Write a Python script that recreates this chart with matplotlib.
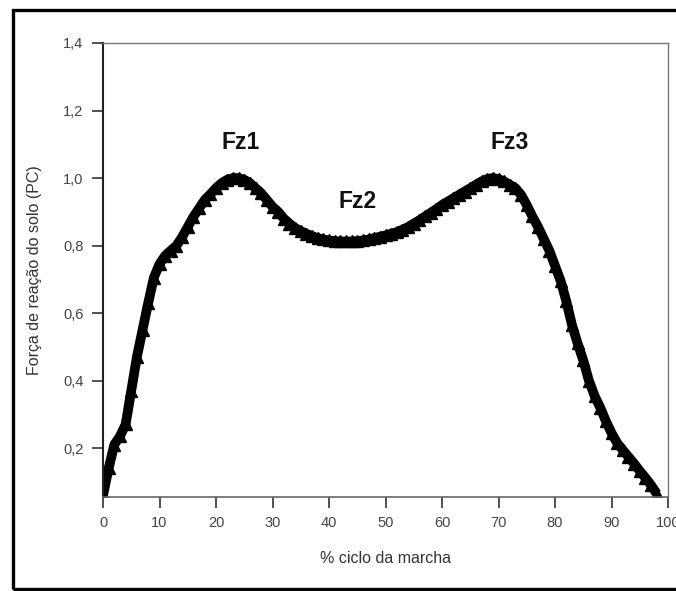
import numpy as np
import matplotlib
matplotlib.use("Agg")
import matplotlib.pyplot as plt
from matplotlib.patches import Rectangle
from matplotlib.ticker import FuncFormatter

# % of gait cycle and normalised vertical ground reaction force
ciclo = list(range(0, 99))
forca = [0.06, 0.14, 0.21, 0.235, 0.27, 0.37, 0.47, 0.55, 0.63, 0.705,
         0.745, 0.77, 0.785, 0.80, 0.825, 0.855, 0.885, 0.91, 0.935, 0.952,
         0.97, 0.985, 0.995, 1.0, 1.0, 0.995, 0.985, 0.97, 0.955, 0.935,
         0.915, 0.90, 0.88, 0.865, 0.852, 0.843, 0.835, 0.828, 0.822, 0.818,
         0.815, 0.813, 0.812, 0.812, 0.812, 0.813, 0.815, 0.818, 0.822, 0.826,
         0.83, 0.835, 0.84, 0.847, 0.855, 0.865, 0.875, 0.886, 0.897, 0.908,
         0.92, 0.93, 0.94, 0.95, 0.96, 0.97, 0.98, 0.99, 0.997, 1.0,
         0.997, 0.99, 0.98, 0.97, 0.95, 0.92, 0.886, 0.855, 0.82, 0.785,
         0.74, 0.695, 0.635, 0.565, 0.51, 0.46, 0.40, 0.355, 0.32, 0.28,
         0.245, 0.215, 0.194, 0.174, 0.154, 0.132, 0.112, 0.09, 0.065]

picos = ["Fz1", "Fz2", "Fz3"]
picos_x = [24.3, 45.1, 72.0]
picos_y = [1.104, 0.93, 1.104]

xticks = list(range(0, 101, 10))
yticks = [0.2, 0.4, 0.6, 0.8, 1.0, 1.2, 1.4]

plt.rcParams['font.family'] = ['Liberation Sans', 'DejaVu Sans']

fig = plt.figure(figsize=(6.76, 5.91), dpi=100)
ax = fig.add_axes([103 / 676, 94 / 591, 565 / 676, 454 / 591])

# outer black frame (cut off on the right like the original)
fig.patches.append(Rectangle((13 / 676, 2 / 591), 1.0, 579 / 591,
                             transform=fig.transFigure, fill=False,
                             edgecolor='black', linewidth=2.4))

ax.plot(ciclo, forca, '-', color='black', linewidth=7, solid_capstyle='butt')
ax.plot(ciclo, forca, '^', color='black', markersize=9)

for nome, px, py in zip(picos, picos_x, picos_y):
    ax.text(px, py, nome, ha='center', va='center', fontsize=16.5,
            fontweight='bold', color='#111111')

ax.set_xlim(0, 100)
ax.set_ylim(0.055, 1.4)
ax.set_xticks(xticks)
ax.set_yticks(yticks)
ax.yaxis.set_major_formatter(FuncFormatter(lambda v, p: ('%.1f' % v).replace('.', ',')))
ax.tick_params(direction='out', length=8, width=1.2, labelsize=10.5,
               labelcolor='#444444', color='#333333', pad=6)

for s in ['top', 'right']:
    ax.spines[s].set_color('#777777')
    ax.spines[s].set_linewidth(1.0)
ax.spines['left'].set_color('#222222')
ax.spines['left'].set_linewidth(1.5)
ax.spines['bottom'].set_color('#666666')
ax.spines['bottom'].set_linewidth(1.2)

ax.set_xlabel('% ciclo da marcha', fontsize=11.5, color='#333333')
ax.set_ylabel('Força de reação do solo (PC)', fontsize=11.5, color='#333333')
ax.xaxis.set_label_coords(0.5, -0.118)
ax.yaxis.set_label_coords(-0.108, 0.5)

fig.savefig('out.png', dpi=100)
